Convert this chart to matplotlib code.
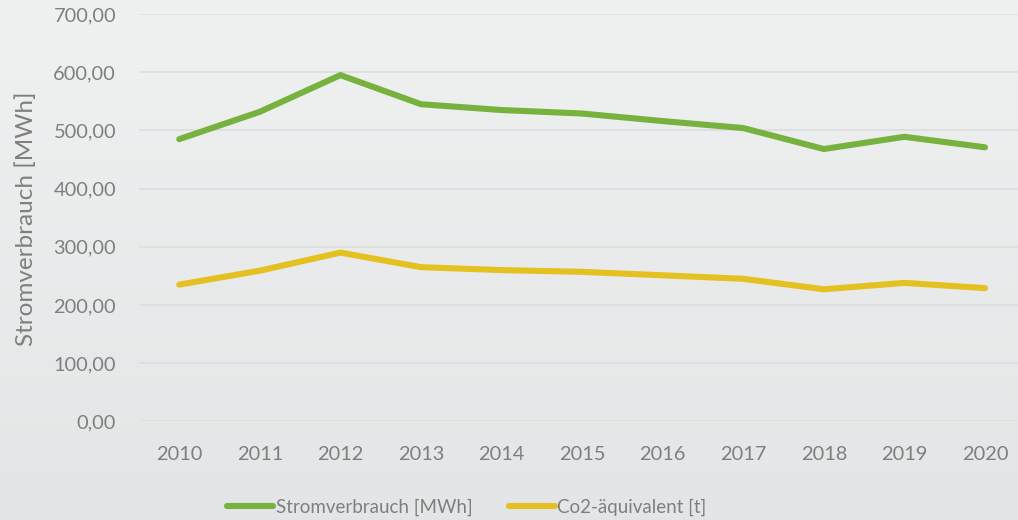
import numpy as np
import matplotlib.pyplot as plt
from matplotlib.ticker import FuncFormatter

years = ['2010', '2011', '2012', '2013', '2014', '2015', '2016', '2017', '2018', '2019', '2020']
strom = [485, 532, 595, 545, 535, 529, 516, 504, 468, 489, 471]
co2 = [235, 259, 290, 265, 260, 257, 251, 245, 227, 238, 229]

plt.rcParams['font.family'] = ['Lato', 'DejaVu Sans']
text_col = '#7f7f7f'

fig = plt.figure(figsize=(10.18, 5.2), dpi=100)

# light vertical gradient background
bg = fig.add_axes([0, 0, 1, 1], zorder=-10)
grad = np.linspace(0, 1, 256).reshape(-1, 1)
top = np.array([0.941, 0.945, 0.945])
bot = np.array([0.890, 0.898, 0.902])
img = top + (bot - top) * grad[:, :, None]
bg.imshow(img, aspect='auto', extent=[0, 1, 0, 1])
bg.axis('off')

ax = fig.add_axes([139 / 1018, 98.6 / 520, 1 - 139 / 1018, 407.4 / 520])
ax.patch.set_alpha(0)
x = np.arange(len(years))
ax.plot(x, strom, color='#77b23f', lw=4.4, solid_capstyle='round', solid_joinstyle='round',
        label='Stromverbrauch [MWh]')
ax.plot(x, co2, color='#e4c021', lw=4.4, solid_capstyle='round', solid_joinstyle='round',
        label='Co2-äquivalent [t]')

ax.set_xlim(-0.5, (1018 - 139.75) / 80.5 - 0.5)
ax.set_ylim(0, 700)
ax.set_yticks(range(0, 701, 100))
ax.yaxis.set_major_formatter(FuncFormatter(lambda v, p: f'{v:.2f}'.replace('.', ',')))
ax.set_xticks(x)
ax.set_xticklabels(years)
ax.grid(axis='y', color='#dcdddd', lw=1.2)
ax.set_axisbelow(True)
for s in ax.spines.values():
    s.set_visible(False)
ax.tick_params(length=0, colors=text_col, labelsize=14.4)
ax.tick_params(axis='x', pad=18)
ax.tick_params(axis='y', pad=16.5)
ax.set_ylabel('Stromverbrauch [MWh]', color=text_col, fontsize=17.5)
ax.yaxis.set_label_coords((37 - 139) / 879, 0.497)

fig.legend(loc='center', bbox_to_anchor=(467 / 1018, 1 - 507 / 520), ncol=2, frameon=False,
           fontsize=13.5, labelcolor=text_col, handlelength=2.45, handletextpad=0.15,
           columnspacing=1.9)

fig.savefig('out.png', dpi=100)
